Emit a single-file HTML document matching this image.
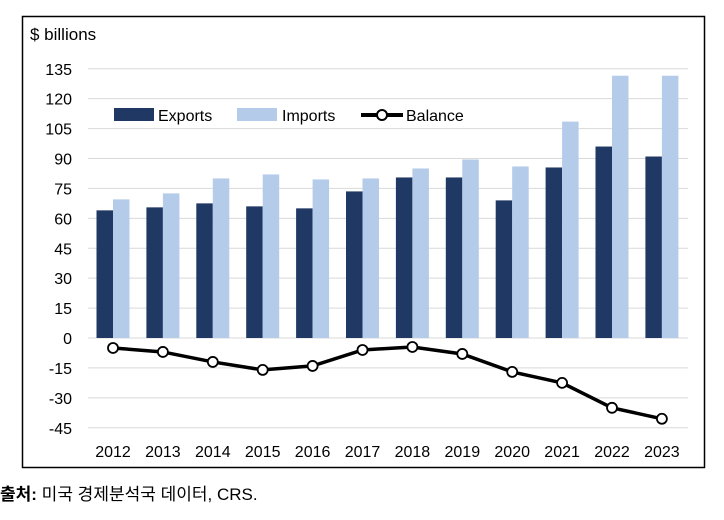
<!DOCTYPE html>
<html><head><meta charset="utf-8"><style>
body{margin:0;background:#fff;width:724px;height:515px;overflow:hidden;font-family:"Liberation Sans","Noto Sans CJK KR",sans-serif}
</style></head><body>
<svg id="chart" width="724" height="515" xmlns="http://www.w3.org/2000/svg" font-family="Liberation Sans, Noto Sans CJK KR, sans-serif">
<rect x="22.5" y="16.5" width="682" height="451" fill="#fff" stroke="#000" stroke-width="1.5"/>
<text x="30" y="40" font-size="17" fill="#000">$ billions</text>
<g id="grid"></g><g id="bars"></g><g id="line"></g><g id="labels"></g>
<g>
<rect x="114" y="108" width="40" height="13" fill="#203864"/>
<text x="158" y="121" font-size="16">Exports</text>
<rect x="237" y="108" width="40" height="13" fill="#b4cbea"/>
<text x="282" y="121" font-size="16">Imports</text>
<line x1="361" y1="115" x2="403" y2="115" stroke="#000" stroke-width="4"/>
<circle cx="382" cy="115" r="5" fill="#fff" stroke="#000" stroke-width="2"/>
<text x="406" y="121" font-size="16">Balance</text>
</g>
<text x="0" y="500" font-size="17" fill="#000"><tspan font-weight="bold">출처:</tspan> 미국 경제분석국 데이터, CRS.</text>
</svg>
<script>
const years=["2012","2013","2014","2015","2016","2017","2018","2019","2020","2021","2022","2023"];
const exportsVals=[64,65.5,67.5,66,65,73.5,80.5,80.5,69,85.5,96,91];
const importsVals=[69.5,72.5,80,82,79.5,80,85,89.5,86,108.5,131.5,131.5];
const balanceVals=[-5,-7,-12,-16,-14,-6,-4.5,-8,-17,-22.5,-35,-40.5];
const yTicks=[135,120,105,90,75,60,45,30,15,0,-15,-30,-45];
const NS="http://www.w3.org/2000/svg";
function y(v){return 338-(v*359/180);}
function x(i){return 113+i*49.9;}
function mk(tag,attrs,parent){const e=document.createElementNS(NS,tag);for(const k in attrs)e.setAttribute(k,attrs[k]);document.getElementById(parent).appendChild(e);return e;}
yTicks.forEach(t=>{
 const l=mk('line',{x1:88,x2:688,y1:y(t),y2:y(t),stroke:'#d9d9d9','stroke-width':1},'grid');
 
 
 const tx=mk('text',{x:72,y:y(t)+6,'font-size':16,'text-anchor':'end'},'labels');tx.textContent=t;
 
 
});
years.forEach((yr,i)=>{
 const b1=mk('rect',{x:x(i)-16.5,y:y(exportsVals[i]),width:16.5,height:y(0)-y(exportsVals[i]),fill:'#203864'},'bars');
 
 
 const b2=mk('rect',{x:x(i),y:y(importsVals[i]),width:16.5,height:y(0)-y(importsVals[i]),fill:'#b4cbea'},'bars');
 
 
 const tx=mk('text',{x:x(i),y:457,'font-size':16,'text-anchor':'middle'},'labels');tx.textContent=yr;
 
 
});
const pl=mk('polyline',{points:balanceVals.map((v,i)=>x(i)+','+y(v)).join(' '),fill:'none',stroke:'#000','stroke-width':3.5},'line');


balanceVals.forEach((v,i)=>{
 const c=mk('circle',{cx:x(i),cy:y(v),r:5,fill:'#fff',stroke:'#000','stroke-width':1.8},'line');
 
 
});
</script>
</body></html>
